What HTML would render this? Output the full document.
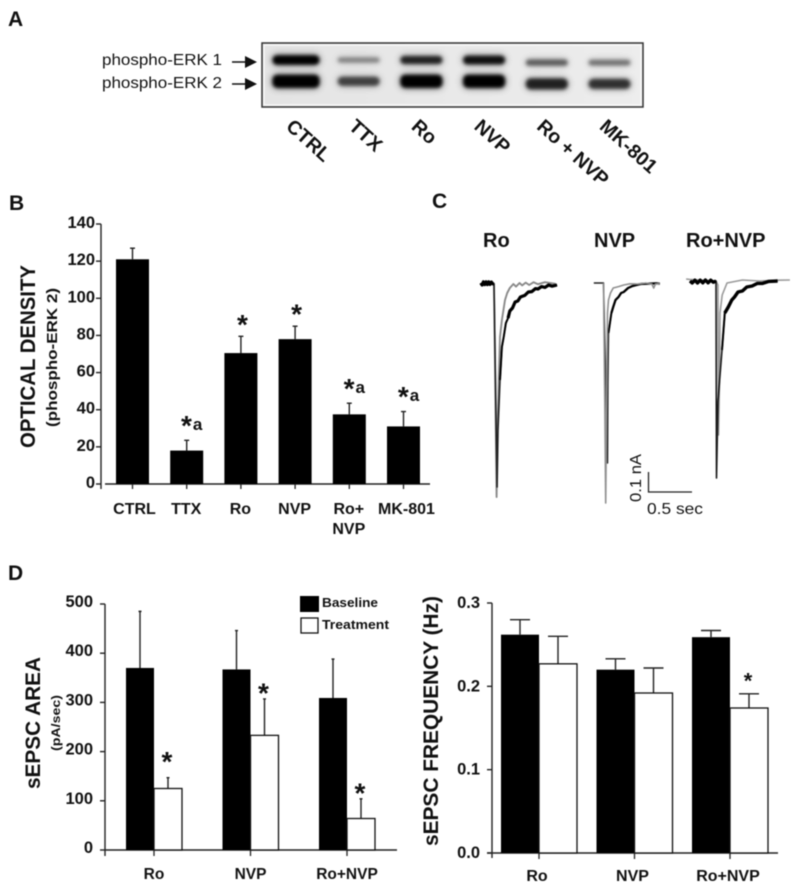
<!DOCTYPE html>
<html lang="en">
<head>
<meta charset="utf-8">
<title>ERK phosphorylation and sEPSC figure</title>
<style>
html,body{margin:0;padding:0;background:#fff;width:800px;height:891px;overflow:hidden}
svg{display:block;filter:blur(.5px)}
text{font-family:"Liberation Sans",sans-serif;fill:#111}
.b{font-weight:bold}
</style>
</head>
<body>
<svg id="fig" xmlns="http://www.w3.org/2000/svg" width="800" height="891" viewBox="0 0 800 891">
<defs>
<filter id="bandBlur" x="-30%" y="-150%" width="160%" height="400%"><feGaussianBlur stdDeviation="1.9"/></filter>
<filter id="haloBlur" x="-40%" y="-200%" width="180%" height="500%"><feGaussianBlur stdDeviation="3.6"/></filter>
<linearGradient id="blotBg" x1="0" x2="1" y1="0" y2="0"><stop offset="0" stop-color="#e4e4e4"/><stop offset=".5" stop-color="#e9e9e9"/><stop offset="1" stop-color="#ededed"/></linearGradient>
</defs>
<rect width="800" height="891" fill="#fff"/>
<text class="b" x="8" y="26" font-size="21">A</text>
<text class="b" x="9" y="210" font-size="21">B</text>
<text class="b" x="432" y="208" font-size="21">C</text>
<text class="b" x="8" y="580" font-size="21">D</text>

<g id="blot"></g>
<text x="102" y="65" font-size="16" textLength="120" lengthAdjust="spacingAndGlyphs">phospho-ERK 1</text>
<text x="102" y="88" font-size="16" textLength="120" lengthAdjust="spacingAndGlyphs">phospho-ERK 2</text>
<g><line x1="232" x2="247" y1="62" y2="62" stroke="#111" stroke-width="1.5"/><polygon points="245,56 257,62 245,68" fill="#111"/></g>
<g><line x1="232" x2="247" y1="84" y2="84" stroke="#111" stroke-width="1.5"/><polygon points="245,78 257,84 245,90" fill="#111"/></g>

<g id="chartB"></g>
<text class="b" font-size="21" transform="translate(35,448) rotate(-90)" textLength="183" lengthAdjust="spacingAndGlyphs">OPTICAL DENSITY</text>
<text class="b" font-size="14.5" transform="translate(57,427) rotate(-90)" textLength="139" lengthAdjust="spacingAndGlyphs">(phospho-ERK 2)</text>

<g id="traces"></g>
<text class="b" x="483" y="247" font-size="20">Ro</text>
<text class="b" x="594" y="247" font-size="20">NVP</text>
<text class="b" x="686" y="247" font-size="20">Ro+NVP</text>
<path d="M648.500 472V492H692" fill="none" stroke="#222" stroke-width="1.300"/>
<text x="647" y="514" font-size="16" textLength="56" lengthAdjust="spacingAndGlyphs">0.5 sec</text>
<text font-size="16" transform="translate(641,502) rotate(-90)" textLength="48" lengthAdjust="spacingAndGlyphs">0.1 nA</text>

<g id="chartArea"></g>
<text class="b" font-size="21" transform="translate(40,789) rotate(-90)" textLength="132" lengthAdjust="spacingAndGlyphs">sEPSC AREA</text>
<text class="b" font-size="12" transform="translate(60,751) rotate(-90)" textLength="56" lengthAdjust="spacingAndGlyphs">(pA/sec)</text>
<g>
<rect x="300" y="596" width="19" height="16" fill="#000"/>
<rect x="301" y="618" width="17" height="15" fill="#fff" stroke="#111" stroke-width="1.300"/>
<text class="b" x="322" y="607" font-size="12.500" textLength="56" lengthAdjust="spacingAndGlyphs">Baseline</text>
<text class="b" x="322" y="629" font-size="12.500" textLength="67" lengthAdjust="spacingAndGlyphs">Treatment</text>
</g>

<g id="chartFreq"></g>
<text class="b" font-size="21" transform="translate(438,846) rotate(-90)" textLength="250" lengthAdjust="spacingAndGlyphs">sEPSC FREQUENCY (Hz)</text>
</svg>

<script>
/* ---------- Data: blot ---------- */
const laneLabels = ['CTRL', 'TTX', 'Ro', 'NVP', 'Ro + NVP', 'MK-801'];
const erk1Density = [1, 0.36, 0.8, 0.9, 0.52, 0.44];
const erk2Density = [1, 0.64, 1, 1, 0.8, 0.72];

/* ---------- Data: panel B ---------- */
const odCategories = ['CTRL', 'TTX', 'Ro', 'NVP', 'Ro+|NVP', 'MK-801'];
const odValues = [121, 18, 70.5, 78, 37.5, 31];
const odErrorTops = [127, 23.5, 79.5, 85, 43.5, 39];
const odMarks = ['', '*a', '*', '*', '*a', '*a'];
const odTicks = [0, 20, 40, 60, 80, 100, 120, 140];

/* ---------- Data: panel C (time in s from onset, current in nA) ---------- */
const roBlack = [[-.15,0],[-.135,-.01],[-.12,.006],[-.105,-.008],[-.09,.006],[-.075,-.008],[-.06,.006],[-.045,-.007],[-.03,.005],[-.015,-.004],[0,-.005],[.035,-1.02],[.045,-.735],[.068,-.485],[.09,-.32],[.11,-.27],[.135,-.2],[.16,-.175],[.18,-.14],[.21,-.125],[.24,-.095],[.27,-.09],[.3,-.07],[.35,-.062],[.39,-.045],[.43,-.043],[.47,-.028],[.5,-.03],[.54,-.018],[.58,-.022],[.62,-.01],[.66,-.016],[.716,-.01]];
const roGray = [[0,0],[.03,-1.07],[.04,-.735],[.057,-.435],[.068,-.27],[.09,-.185],[.125,-.085],[.15,-.05],[.18,-.025],[.22,-.005],[.25,-.018],[.29,0],[.32,-.012],[.36,.002],[.4,-.01],[.45,.004],[.5,-.006],[.58,.004],[.7,-.004]];
const nvpBlack = [[-.11,0],[-.05,0],[0,0],[.045,-.9],[.05,-.5],[.057,-.25],[.09,-.15],[.11,-.12],[.136,-.085],[.17,-.07],[.2,-.05],[.23,-.045],[.28,-.025],[.33,-.015],[.42,-.005],[.5,-.003],[.6,-.002],[.64,-.003]];
const nvpGray = [[0,0],[.015,-.6],[.025,-1.1],[.035,-.6],[.045,-.15],[.057,-.085],[.08,-.05],[.11,-.025],[.17,-.018],[.23,-.01],[.3,-.004],[.4,-.005],[.48,0],[.55,-.005],[.57,-.025],[.59,-.005],[.64,-.003]];
const comboBlack = [[-.295,0],[-.27,-.01],[-.24,.004],[-.21,-.01],[-.18,.004],[-.15,-.009],[-.12,.005],[-.09,-.009],[-.06,.004],[-.03,-.006],[0,0],[.006,-.985],[.023,-.6],[.068,-.345],[.1,-.16],[.14,-.13],[.18,-.095],[.21,-.08],[.25,-.055],[.3,-.05],[.35,-.03],[.41,-.025],[.47,-.012],[.53,-.012],[.6,-.002],[.7,0]];
const comboGray = [[-.34,.01],[-.3,.008],[0,0],[.022,-.02],[.028,-.77],[.04,-.5],[.045,-.16],[.07,-.07],[.125,-.01],[.3,.005],[.5,0],[.7,.004],[.84,.005]];

/* ---------- Data: panel D left ---------- */
const groupLabels = ['Ro', 'NVP', 'Ro+NVP'];
const areaBaseline = [370, 367, 309];
const areaBaselineErr = [485, 446, 388];
const areaTreatment = [125, 233, 64];
const areaTreatmentErr = [147, 307, 104];
const areaMarks = ['*', '*', '*'];
const areaTicks = [0, 100, 200, 300, 400, 500];

/* ---------- Data: panel D right ---------- */
const freqBaseline = [0.262, 0.22, 0.259];
const freqBaselineErr = [0.28, 0.233, 0.267];
const freqTreatment = [0.227, 0.192, 0.174];
const freqTreatmentErr = [0.26, 0.222, 0.191];
const freqMarks = ['', '', '*'];
const freqTicks = ['0.0', '0.1', '0.2', '0.3'];

/* ---------- Helpers ---------- */
const NS = 'http://www.w3.org/2000/svg';
function el(tag, attrs, parent, content) {
  const n = document.createElementNS(NS, tag);
  for (const k in attrs) n.setAttribute(k, attrs[k]);
  if (content !== undefined) n.textContent = content;
  parent.appendChild(n);
  return n;
}
function slug(s) { return String(s).toLowerCase().replace(/[^a-z0-9]+/g, '-').replace(/^-|-$/g, ''); }

/* ---------- Panel A ---------- */
const blot = document.getElementById('blot');
const laneX = i => 296 + 62.7 * i;
const laneDrop = i => (i >= 4 ? 2.6 : 0);
const blotBox = el('rect', {x: 262, y: 43, width: 381, height: 64, fill: 'url(#blotBg)'}, blot);


const innerEdge = el('rect', {x: 264, y: 45, width: 377, height: 60, fill: 'none', stroke: '#f8f8f8', 'stroke-width': 1.5}, blot);


function drawBand(i, cy, half, density, name) {
  const w = i === 0 ? 47 : 42;
  const h = el('rect', {x: laneX(i) - w / 2 - 1, y: cy - half - 1, width: w + 2, height: 2 * half + 2, rx: 6, fill: '#000', opacity: density * 0.4, filter: 'url(#haloBlur)'}, blot);
  
  
  const b = el('rect', {x: laneX(i) - w / 2, y: cy - half, width: w, height: 2 * half, rx: Math.min(half, 5), fill: '#000', opacity: density, filter: 'url(#bandBlur)'}, blot);
  
  
}
laneLabels.forEach((lab, i) => {
  drawBand(i, 60 + laneDrop(i), 1.5 + 3.2 * erk1Density[i], erk1Density[i], 'erk1-band-' + slug(lab));
  drawBand(i, 81.3 + laneDrop(i), 1 + 5.6 * erk2Density[i], erk2Density[i], 'erk2-band-' + slug(lab));
  const t = el('text', {class: 'b', 'font-size': 19.5, transform: 'translate(' + (laneX(i) - 11) + ',128) rotate(42)'}, blot, lab);
  
  
});
const blotFrame = el('rect', {x: 262, y: 43, width: 381, height: 64, fill: 'none', stroke: '#333', 'stroke-width': 1.5}, blot);



/* ---------- Shared axes ---------- */
function drawYAxis(g, o, ticks, yOf) {
  const axis = el('line', {x1: o.axisX, x2: o.axisX, y1: yOf(o.max), y2: o.axisBottom, stroke: '#222', 'stroke-width': 1.4}, g);
  
  
  const base = el('line', {x1: o.baseStart, x2: o.baseEnd, y1: yOf(0), y2: yOf(0), stroke: '#222', 'stroke-width': 1.6}, g);
  
  
  ticks.forEach(v => {
    const y = yOf(+v);
    const tk = el('line', {x1: o.axisX - 5, x2: o.axisX, y1: y, y2: y, stroke: '#222', 'stroke-width': 1.4}, g);
    
    
    const lb = el('text', {class: 'b', x: o.labelX, y: y + o.labelDy, 'font-size': 16.5, 'text-anchor': 'end'}, g, v);
    
    
  });
}
function drawError(g, x, yFrom, yTo, cap, name) {
  const e = el('path', {d: 'M' + x + ' ' + yFrom + 'V' + yTo + 'M' + (x - cap) + ' ' + yTo + 'H' + (x + cap), fill: 'none', stroke: '#222', 'stroke-width': 1.4}, g);
  
  
}
function drawStar(g, cx, cy, size, label, name) {
  const s = el('text', {class: 'b', x: cx, y: cy + size * 0.52, 'font-size': size, 'text-anchor': 'middle'}, g);
  
  
  const star = el('tspan', {}, s, '*');
  
  
  if (label.length > 1) {
    const a = el('tspan', {'font-size': 17, dx: 1, dy: -5}, s, label.slice(1));
    
    
  }
}

/* ---------- Panel B ---------- */
const gB = document.getElementById('chartB');
const yB = v => 484 - v * (260 / 140);
const xB = i => 132.5 + 54.2 * i;
drawYAxis(gB, {axisX: 101, axisBottom: 489, max: 140, baseStart: 105, baseEnd: 430, labelX: 95, labelDy: 4}, odTicks, yB);
odCategories.forEach((cat, i) => {
  const name = slug(cat);
  const top = yB(odValues[i]);
  drawError(gB, xB(i), top, yB(odErrorTops[i]), 2.5, 'error-bar-' + name);
  const bar = el('rect', {x: xB(i) - 16.5, y: top, width: 33, height: yB(0) - top, fill: '#000'}, gB);
  
  
  const tk = el('line', {x1: xB(i), x2: xB(i), y1: yB(0), y2: 489, stroke: '#222', 'stroke-width': 1.3}, gB);
  
  
  cat.split('|').forEach((line, k) => {
    const t = el('text', {class: 'b', x: xB(i) + (i === 0 ? 2 : i === 5 ? 3 : -0.5), y: 514 + 20 * k, 'font-size': 16, 'text-anchor': 'middle'}, gB, line);
    
    
  });
  if (odMarks[i]) {
    const withLetter = odMarks[i].length > 1;
    drawStar(gB, xB(i) + (withLetter ? 5 : 1.5), yB(odErrorTops[i]) - (withLetter ? 20 : 17), 28, odMarks[i], 'significance-' + name);
  }
});

/* ---------- Panel C ---------- */
const gT = document.getElementById('traces');
const xT = t => t * 88;
const yT = v => -v * 200;
function tracePath(origin, data) {
  return data.map((p, i) => (i ? 'L' : 'M') + (origin[0] + xT(p[0])).toFixed(1) + ' ' + (origin[1] + yT(p[1])).toFixed(1)).join('');
}
function drawTrace(origin, data, color, width, name) {
  const path = el('path', {d: tracePath(origin, data), fill: 'none', stroke: color, 'stroke-width': width, 'stroke-linejoin': 'round'}, gT);
  
  
}
function drawThickParts(origin, data, width, name) {
  const peakAt = data.reduce((best, p, i) => (p[1] < data[best][1] ? i : best), 0);
  const before = data.filter((p, i) => i < peakAt && p[0] <= 0);
  const rise = data.filter((p, i) => i > peakAt && p[1] > -0.5);
  const after = data.filter((p, i) => i > peakAt && p[1] > -0.2);
  drawTrace(origin, before, '#000', width, name + '-pre-noise');
  drawTrace(origin, rise, '#000', 2, name + '-rise');
  drawTrace(origin, after, '#000', width, name + '-tail-noise');
}
drawTrace([494, 283], roGray, '#8a8a8a', 1.9, 'trace-ro-treatment');
drawTrace([494, 283], roBlack, '#222', 1.6, 'trace-ro-baseline');
drawThickParts([494, 283], roBlack, 3.2, 'trace-ro-baseline');
drawTrace([603.5, 283], nvpBlack, '#222', 1.5, 'trace-nvp-baseline');
drawThickParts([603.5, 283], nvpBlack.filter(p => p[0] >= 0), 2.2, 'trace-nvp-baseline');
drawTrace([603.5, 283], nvpGray, '#909090', 1.6, 'trace-nvp-treatment');
drawTrace([716, 281], comboGray, '#9a9a9a', 1.6, 'trace-ro-nvp-treatment');
drawTrace([716, 281], comboBlack, '#1a1a1a', 1.6, 'trace-ro-nvp-baseline');
drawThickParts([716, 281], comboBlack, 3.4, 'trace-ro-nvp-baseline');

/* ---------- Panel D paired charts ---------- */
function drawPaired(g, o, base, baseErr, treat, treatErr, marks, yOf) {
  groupLabels.forEach((lab, i) => {
    const name = slug(lab);
    const cx = o.firstCenter + o.step * i;
    const yb = yOf(base[i]), yt = yOf(treat[i]);
    drawError(g, cx - o.w / 2, yb, yOf(baseErr[i]), o.cap, 'error-bar-baseline-' + name);
    drawError(g, cx + o.w / 2, yt, yOf(treatErr[i]), o.cap, 'error-bar-treatment-' + name);
    const bb = el('rect', {x: cx - o.w, y: yb, width: o.w, height: yOf(0) - yb, fill: '#000'}, g);
    
    
    const bt = el('rect', {x: cx, y: yt, width: o.w, height: yOf(0) - yt, fill: '#fff', stroke: '#111', 'stroke-width': 1.3}, g);
    
    
    const tk = el('line', {x1: cx, x2: cx, y1: yOf(0), y2: yOf(0) + 6, stroke: '#222', 'stroke-width': 1.3}, g);
    
    
    const t = el('text', {class: 'b', x: cx + o.labelDx, y: o.labelY, 'font-size': o.labelSize, 'text-anchor': 'middle'}, g, lab);
    
    
    if (marks[i]) {
      drawStar(g, cx + o.w / 2 - 1, yOf(treatErr[i]) - o.starGap(i), o.starSize, marks[i], 'significance-' + name);
    }
  });
}
const gA = document.getElementById('chartArea');
const yA = v => 850 - v * (246 / 500);
drawYAxis(gA, {axisX: 105, axisBottom: 856, max: 500, baseStart: 105, baseEnd: 397, labelX: 93, labelDy: 3}, areaTicks, yA);
drawPaired(gA, {firstCenter: 154, step: 96.5, w: 28, cap: 1.5, labelDx: 0, labelY: 879, labelSize: 15.5, starGap: i => (i === 0 ? 21 : 11), starSize: 28}, areaBaseline, areaBaselineErr, areaTreatment, areaTreatmentErr, areaMarks, yA);

const gF = document.getElementById('chartFreq');
const yF = v => 853 - v * (250 / 0.3);
drawYAxis(gF, {axisX: 492, axisBottom: 858, max: 0.3, baseStart: 487, baseEnd: 778, labelX: 480, labelDy: 5}, freqTicks, yF);
drawPaired(gF, {firstCenter: 539, step: 95.5, w: 38, cap: 10, labelDx: -2, labelY: 881, labelSize: 16, starGap: () => 17, starSize: 22}, freqBaseline, freqBaselineErr, freqTreatment, freqTreatmentErr, freqMarks, yF);
</script>
</body>
</html>
